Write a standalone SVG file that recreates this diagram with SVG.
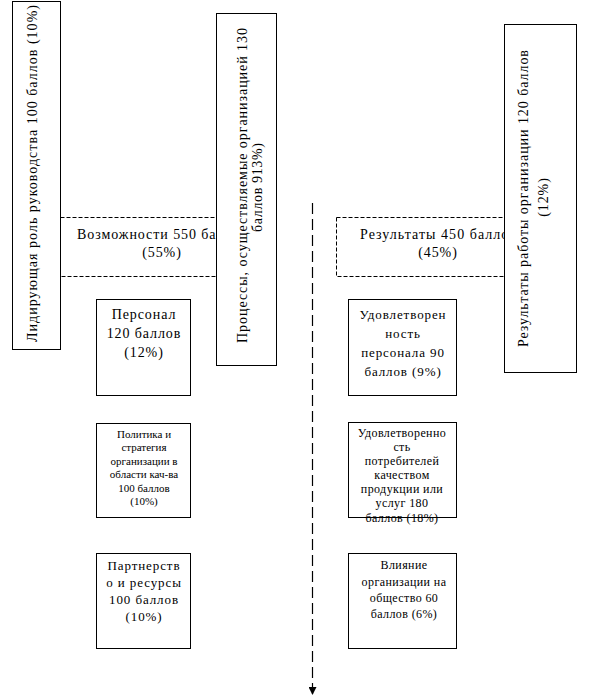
<svg xmlns="http://www.w3.org/2000/svg" width="613" height="697" viewBox="0 0 613 697" font-family="'Liberation Serif', 'DejaVu Serif', serif">
<style>
text{font-family:'Liberation Serif','DejaVu Serif',serif;fill:#000}
.box{fill:#fff;stroke:#000;stroke-width:1}
.dbox{fill:#fff;stroke:#000;stroke-width:1;stroke-dasharray:4 2}
.t14{font-size:14px;text-anchor:middle;letter-spacing:0.9px}
.t13{font-size:13px;text-anchor:middle;letter-spacing:0.9px}
.t12{font-size:12px;text-anchor:middle;letter-spacing:0.4px}
.t11{font-size:11px;text-anchor:middle}
</style>
<defs>
<marker id="arr" markerWidth="8" markerHeight="8" refX="8" refY="4" orient="auto" markerUnits="userSpaceOnUse" viewBox="0 0 8 8">
<path d="M0,0 L8,4 L0,8 Z" fill="#000"/>
</marker>
</defs>
<g id="connectors">
<line x1="312.5" y1="203" x2="312.5" y2="695" stroke="#000" stroke-width="1.2" stroke-dasharray="11 5" marker-end="url(#arr)"/>
</g>
<g id="vozmozhnosti">
<rect class="dbox" x="60.5" y="217.5" width="204" height="59"/>
<text x="77" y="239" font-size="14" textLength="170" lengthAdjust="spacing">Возможности 550 баллов</text>
<text class="t14" x="162" y="257">(55%)</text>
</g>
<g id="rezultaty">
<rect class="dbox" x="336.5" y="217.5" width="204" height="59"/>
<text x="360" y="239" font-size="14" textLength="156" lengthAdjust="spacing">Результаты 450 баллов</text>
<text class="t14" x="438" y="257">(45%)</text>
</g>
<g id="liderstvo">
<rect class="box" x="12.5" y="1.5" width="48" height="348"/>
<text transform="translate(37,342) rotate(-90)" font-size="14" textLength="337" lengthAdjust="spacing">Лидирующая роль руководства 100 баллов (10%)</text>
</g>
<g id="processy">
<rect class="box" x="216.5" y="13.5" width="60" height="352"/>
<text transform="translate(247,343) rotate(-90)" font-size="14" textLength="315" lengthAdjust="spacing">Процессы, осуществляемые организацией 130</text>
<text transform="translate(262,232) rotate(-90)" font-size="14" textLength="89" lengthAdjust="spacing">баллов 913%)</text>
</g>
<g id="rezultaty-raboty">
<rect class="box" x="504.5" y="24.5" width="72" height="348"/>
<text transform="translate(528,347) rotate(-90)" font-size="14" textLength="297" lengthAdjust="spacing">Результаты работы организации 120 баллов</text>
<text class="t14" transform="translate(548,197) rotate(-90)">(12%)</text>
</g>
<g id="personal">
<rect class="box" x="96.5" y="299.5" width="94" height="96"/>
<text class="t14" x="144" y="319">Персонал</text>
<text class="t14" x="144" y="338">120 баллов</text>
<text class="t14" x="144" y="357">(12%)</text>
</g>
<g id="politika">
<rect class="box" x="96.5" y="423.5" width="94" height="94"/>
<text class="t11" x="144" y="438">Политика и</text>
<text class="t11" x="144" y="451">стратегия</text>
<text class="t11" x="144" y="465">организации в</text>
<text class="t11" x="144" y="478">области кач-ва</text>
<text class="t11" x="144" y="492">100 баллов</text>
<text class="t11" x="144" y="505">(10%)</text>
</g>
<g id="partnerstvo">
<rect class="box" x="96.5" y="553.5" width="94" height="95"/>
<text class="t13" x="144" y="570">Партнерств</text>
<text class="t13" x="144" y="587">о и ресурсы</text>
<text class="t13" x="144" y="604">100 баллов</text>
<text class="t13" x="144" y="621">(10%)</text>
</g>
<g id="udovl-personala">
<rect class="box" x="348.5" y="299.5" width="108" height="96"/>
<text class="t13" x="403" y="319">Удовлетворен</text>
<text class="t13" x="403" y="338">ность</text>
<text class="t13" x="403" y="357" letter-spacing="0.5">персонала 90</text>
<text class="t13" x="403" y="376" letter-spacing="0.5">баллов (9%)</text>
</g>
<g id="udovl-potrebiteley">
<rect class="box" x="348.5" y="422.5" width="108" height="95"/>
<text class="t12" x="402" y="437">Удовлетворенно</text>
<text class="t12" x="402" y="451">сть</text>
<text class="t12" x="402" y="465">потребителей</text>
<text class="t12" x="402" y="479">качеством</text>
<text class="t12" x="402" y="493">продукции или</text>
<text class="t12" x="402" y="507">услуг 180</text>
<text class="t12" x="402" y="522">баллов (18%)</text>
</g>
<g id="vliyanie">
<rect class="box" x="348.5" y="553.5" width="108" height="95"/>
<text class="t12" x="404" y="569">Влияние</text>
<text class="t12" x="404" y="586">организации на</text>
<text class="t12" x="404" y="602">общество 60</text>
<text class="t12" x="404" y="618">баллов (6%)</text>
</g>
</svg>
